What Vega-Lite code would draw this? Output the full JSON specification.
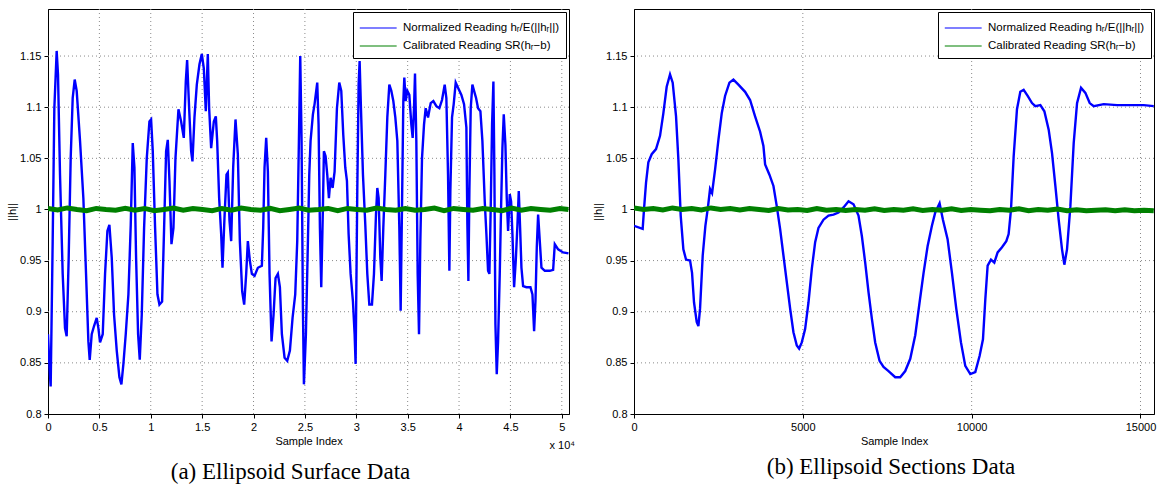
{
  "$schema": "https://vega.github.io/schema/vega-lite/v6.json",
  "background": "white",
  "padding": {"left": 6, "top": 8, "right": 5, "bottom": 5},
  "bounds": "flush",
  "spacing": 65,
  "resolve": {"scale": {"color": "independent"}, "legend": {"color": "independent"}},
  "config": {
    "font": "Liberation Sans",
    "view": {"stroke": "#000", "strokeWidth": 1},
    "axis": {
      "labelFont": "Liberation Sans", "labelFontSize": 11, "labelColor": "#000",
      "titleFont": "Liberation Sans", "titleFontSize": 11, "titleFontWeight": "normal", "titleColor": "#000",
      "domainColor": "#000", "tickColor": "#000", "tickSize": 4, "labelPadding": 3,
      "grid": false, "labelFlush": false
    },
    "legend": {
      "orient": "top-right", "offset": 3, "fillColor": "#fff", "strokeColor": "#000", "padding": 6,
      "labelFont": "Liberation Sans", "labelFontSize": 11.5, "labelColor": "#000", "labelLimit": 400, "labelOffset": 24,
      "symbolType": "M-1,0H3", "symbolSize": 340, "symbolStrokeWidth": 1.2, "rowPadding": 2
    },
    "title": {"font": "Liberation Serif", "fontSize": 23, "fontWeight": "normal", "color": "#000"}
  },
  "datasets": {
    "gxa": [{"g":5000},{"g":10000},{"g":15000},{"g":20000},{"g":25000},{"g":30000},{"g":35000},{"g":40000},{"g":45000},{"g":50000}],
    "gxb": [{"g":5000},{"g":10000},{"g":15000}],
    "gy": [{"g":0.85},{"g":0.9},{"g":0.95},{"g":1.0},{"g":1.05},{"g":1.1},{"g":1.15}],
    "sa": [
      {"i":0,"h":0.878},{"i":150,"h":0.845},{"i":260,"h":0.827},{"i":455,"h":0.969},{"i":617,"h":1.099},{"i":844,"h":1.155},{"i":974,"h":1.132},{"i":1169,"h":1.034},{"i":1429,"h":0.937},{"i":1656,"h":0.884},{"i":1818,"h":0.876},{"i":2013,"h":0.953},{"i":2208,"h":1.05},{"i":2403,"h":1.109},{"i":2598,"h":1.127},{"i":2792,"h":1.116},{"i":3117,"h":1.067},{"i":3442,"h":1.011},{"i":3702,"h":0.937},{"i":3929,"h":0.871},{"i":4059,"h":0.853},{"i":4254,"h":0.878},{"i":4481,"h":0.886},{"i":4741,"h":0.894},{"i":4903,"h":0.884},{"i":5065,"h":0.87},{"i":5325,"h":0.878},{"i":5553,"h":0.937},{"i":5780,"h":0.979},{"i":5975,"h":0.985},{"i":6202,"h":0.953},{"i":6429,"h":0.897},{"i":6689,"h":0.862},{"i":6949,"h":0.836},{"i":7143,"h":0.829},{"i":7338,"h":0.849},{"i":7565,"h":0.878},{"i":7825,"h":0.917},{"i":8052,"h":0.985},{"i":8247,"h":1.065},{"i":8410,"h":1.041},{"i":8572,"h":0.953},{"i":8767,"h":0.878},{"i":8929,"h":0.853},{"i":9124,"h":0.897},{"i":9351,"h":0.982},{"i":9611,"h":1.05},{"i":9870,"h":1.086},{"i":10033,"h":1.088},{"i":10195,"h":1.057},{"i":10422,"h":0.982},{"i":10650,"h":0.917},{"i":10845,"h":0.907},{"i":11104,"h":0.91},{"i":11299,"h":0.982},{"i":11494,"h":1.057},{"i":11657,"h":1.068},{"i":11819,"h":1.028},{"i":12014,"h":0.966},{"i":12209,"h":0.982},{"i":12404,"h":1.05},{"i":12695,"h":1.098},{"i":12954,"h":1.086},{"i":13214,"h":1.07},{"i":13409,"h":1.125},{"i":13539,"h":1.146},{"i":13734,"h":1.099},{"i":13929,"h":1.057},{"i":14058,"h":1.047},{"i":14253,"h":1.09},{"i":14481,"h":1.122},{"i":14740,"h":1.142},{"i":14968,"h":1.152},{"i":15162,"h":1.138},{"i":15357,"h":1.096},{"i":15552,"h":1.152},{"i":15682,"h":1.099},{"i":15877,"h":1.06},{"i":16137,"h":1.086},{"i":16332,"h":1.091},{"i":16462,"h":1.067},{"i":16656,"h":1.011},{"i":16851,"h":0.976},{"i":16981,"h":0.943},{"i":17175,"h":0.992},{"i":17370,"h":1.034},{"i":17500,"h":1.036},{"i":17662,"h":0.989},{"i":17825,"h":0.969},{"i":18020,"h":1.041},{"i":18247,"h":1.088},{"i":18474,"h":1.054},{"i":18669,"h":0.969},{"i":18896,"h":0.92},{"i":19091,"h":0.907},{"i":19286,"h":0.937},{"i":19448,"h":0.969},{"i":19643,"h":0.95},{"i":19838,"h":0.937},{"i":20098,"h":0.935},{"i":20422,"h":0.943},{"i":20812,"h":0.945},{"i":20942,"h":0.982},{"i":21072,"h":1.041},{"i":21234,"h":1.07},{"i":21397,"h":1.037},{"i":21559,"h":0.937},{"i":21754,"h":0.871},{"i":21949,"h":0.897},{"i":22144,"h":0.933},{"i":22371,"h":0.937},{"i":22566,"h":0.924},{"i":22760,"h":0.878},{"i":23020,"h":0.855},{"i":23280,"h":0.852},{"i":23540,"h":0.862},{"i":23799,"h":0.894},{"i":24059,"h":0.917},{"i":24254,"h":0.969},{"i":24416,"h":1.067},{"i":24546,"h":1.15},{"i":24676,"h":1.067},{"i":24806,"h":0.904},{"i":24903,"h":0.829},{"i":25098,"h":0.878},{"i":25293,"h":0.969},{"i":25423,"h":1.034},{"i":25552,"h":1.067},{"i":25779,"h":1.093},{"i":25941,"h":1.103},{"i":26201,"h":1.124},{"i":26331,"h":1.083},{"i":26461,"h":0.982},{"i":26591,"h":0.924},{"i":26753,"h":1.002},{"i":26850,"h":1.057},{"i":27013,"h":1.052},{"i":27175,"h":1.034},{"i":27337,"h":1.011},{"i":27500,"h":1.031},{"i":27695,"h":1.021},{"i":27889,"h":1.037},{"i":28117,"h":1.099},{"i":28344,"h":1.124},{"i":28539,"h":1.116},{"i":28733,"h":1.073},{"i":28928,"h":1.041},{"i":29091,"h":1.028},{"i":29253,"h":0.976},{"i":29448,"h":0.937},{"i":29675,"h":0.91},{"i":29838,"h":0.878},{"i":29935,"h":0.849},{"i":30097,"h":1.018},{"i":30227,"h":1.122},{"i":30325,"h":1.145},{"i":30455,"h":1.099},{"i":30650,"h":1.034},{"i":30877,"h":0.985},{"i":31072,"h":0.937},{"i":31267,"h":0.907},{"i":31526,"h":0.907},{"i":31721,"h":0.937},{"i":31916,"h":0.995},{"i":32046,"h":1.021},{"i":32176,"h":1.011},{"i":32338,"h":0.953},{"i":32468,"h":0.93},{"i":32630,"h":0.982},{"i":32825,"h":1.034},{"i":33020,"h":1.09},{"i":33215,"h":1.122},{"i":33409,"h":1.116},{"i":33604,"h":1.106},{"i":33799,"h":1.09},{"i":33994,"h":1.067},{"i":34189,"h":0.982},{"i":34318,"h":0.901},{"i":34448,"h":1.002},{"i":34578,"h":1.106},{"i":34675,"h":1.129},{"i":34805,"h":1.106},{"i":34967,"h":1.116},{"i":35162,"h":1.112},{"i":35357,"h":1.083},{"i":35487,"h":1.07},{"i":35617,"h":1.099},{"i":35714,"h":1.133},{"i":35844,"h":1.067},{"i":35974,"h":0.937},{"i":36104,"h":0.878},{"i":36234,"h":0.969},{"i":36396,"h":1.05},{"i":36591,"h":1.083},{"i":36754,"h":1.099},{"i":36981,"h":1.09},{"i":37241,"h":1.104},{"i":37500,"h":1.106},{"i":37793,"h":1.101},{"i":38084,"h":1.099},{"i":38343,"h":1.107},{"i":38603,"h":1.122},{"i":38766,"h":1.109},{"i":38928,"h":1.034},{"i":39058,"h":0.94},{"i":39155,"h":1.018},{"i":39317,"h":1.09},{"i":39480,"h":1.103},{"i":39675,"h":1.124},{"i":39902,"h":1.119},{"i":40227,"h":1.112},{"i":40486,"h":1.103},{"i":40714,"h":1.08},{"i":40811,"h":0.985},{"i":40909,"h":0.93},{"i":41006,"h":1.018},{"i":41136,"h":1.099},{"i":41298,"h":1.122},{"i":41461,"h":1.116},{"i":41656,"h":1.109},{"i":41850,"h":1.099},{"i":42078,"h":1.096},{"i":42272,"h":1.067},{"i":42500,"h":1.008},{"i":42662,"h":0.976},{"i":42824,"h":0.94},{"i":42954,"h":0.937},{"i":43084,"h":1.002},{"i":43214,"h":1.083},{"i":43344,"h":1.125},{"i":43441,"h":1.034},{"i":43539,"h":0.888},{"i":43669,"h":0.839},{"i":43798,"h":0.871},{"i":43961,"h":0.937},{"i":44091,"h":1.002},{"i":44221,"h":1.06},{"i":44351,"h":1.093},{"i":44513,"h":1.063},{"i":44643,"h":1.011},{"i":44773,"h":0.979},{"i":44935,"h":1.015},{"i":45065,"h":1.008},{"i":45195,"h":0.976},{"i":45357,"h":0.924},{"i":45520,"h":0.95},{"i":45682,"h":0.985},{"i":45812,"h":1.018},{"i":45942,"h":0.982},{"i":46072,"h":0.943},{"i":46234,"h":0.925},{"i":46559,"h":0.924},{"i":46948,"h":0.924},{"i":47143,"h":0.917},{"i":47305,"h":0.881},{"i":47435,"h":0.91},{"i":47565,"h":0.963},{"i":47695,"h":0.995},{"i":47857,"h":0.969},{"i":48020,"h":0.943},{"i":48344,"h":0.94},{"i":48831,"h":0.94},{"i":49156,"h":0.941},{"i":49318,"h":0.966},{"i":49643,"h":0.961},{"i":50130,"h":0.958},{"i":50650,"h":0.957}
    ],
    "sg": [
      {"i":0,"h":1.001},{"i":940,"h":0.9995},{"i":1880,"h":1.0015},{"i":2820,"h":1.0},{"i":3760,"h":0.9988},{"i":4700,"h":1.001},{"i":5640,"h":1.0},{"i":6580,"h":0.9993},{"i":7520,"h":1.0012},{"i":8460,"h":0.9992},{"i":9400,"h":1.001},{"i":10340,"h":0.9988},{"i":11280,"h":1.0},{"i":12220,"h":1.0013},{"i":13160,"h":0.9993},{"i":14100,"h":1.001},{"i":15040,"h":1.0},{"i":15980,"h":0.9988},{"i":16920,"h":1.001},{"i":17860,"h":0.9993},{"i":18800,"h":1.0014},{"i":19740,"h":1.0},{"i":20680,"h":0.9992},{"i":21620,"h":1.001},{"i":22560,"h":0.9987},{"i":23500,"h":1.0},{"i":24440,"h":1.0013},{"i":25380,"h":0.9993},{"i":26320,"h":1.0},{"i":27260,"h":1.001},{"i":28200,"h":0.9988},{"i":29140,"h":1.001},{"i":30080,"h":1.0},{"i":31020,"h":0.9992},{"i":31960,"h":1.0014},{"i":32900,"h":1.0},{"i":33840,"h":0.9993},{"i":34780,"h":1.001},{"i":35720,"h":0.9992},{"i":36660,"h":1.0},{"i":37600,"h":1.0013},{"i":38540,"h":0.9988},{"i":39480,"h":1.001},{"i":40420,"h":1.0},{"i":41360,"h":0.9992},{"i":42300,"h":1.001},{"i":43240,"h":1.0},{"i":44180,"h":0.9988},{"i":45120,"h":1.0013},{"i":46060,"h":0.9993},{"i":47000,"h":1.001},{"i":47940,"h":1.0},{"i":48880,"h":0.9992},{"i":49820,"h":1.001},{"i":50650,"h":1.0}
    ],
    "ca": [
      {"i":0,"h":0.984},{"i":257,"h":0.981},{"i":296,"h":1.0},{"i":356,"h":1.026},{"i":425,"h":1.046},{"i":524,"h":1.054},{"i":652,"h":1.059},{"i":771,"h":1.072},{"i":869,"h":1.094},{"i":968,"h":1.12},{"i":1067,"h":1.132},{"i":1146,"h":1.124},{"i":1245,"h":1.091},{"i":1314,"h":1.049},{"i":1383,"h":0.994},{"i":1462,"h":0.961},{"i":1541,"h":0.951},{"i":1660,"h":0.95},{"i":1719,"h":0.938},{"i":1778,"h":0.909},{"i":1857,"h":0.89},{"i":1907,"h":0.886},{"i":1956,"h":0.903},{"i":2035,"h":0.955},{"i":2114,"h":0.984},{"i":2193,"h":1.003},{"i":2252,"h":1.02},{"i":2312,"h":1.016},{"i":2401,"h":1.039},{"i":2500,"h":1.068},{"i":2598,"h":1.094},{"i":2697,"h":1.111},{"i":2826,"h":1.124},{"i":2944,"h":1.127},{"i":3092,"h":1.122},{"i":3290,"h":1.115},{"i":3438,"h":1.107},{"i":3586,"h":1.091},{"i":3735,"h":1.076},{"i":3833,"h":1.062},{"i":3883,"h":1.044},{"i":4011,"h":1.034},{"i":4130,"h":1.023},{"i":4229,"h":1.003},{"i":4327,"h":0.981},{"i":4426,"h":0.955},{"i":4525,"h":0.929},{"i":4624,"h":0.903},{"i":4722,"h":0.88},{"i":4821,"h":0.867},{"i":4890,"h":0.864},{"i":4969,"h":0.87},{"i":5068,"h":0.883},{"i":5167,"h":0.909},{"i":5266,"h":0.942},{"i":5365,"h":0.968},{"i":5463,"h":0.982},{"i":5612,"h":0.99},{"i":5760,"h":0.994},{"i":5908,"h":0.995},{"i":6057,"h":0.997},{"i":6205,"h":1.002},{"i":6353,"h":1.008},{"i":6501,"h":1.005},{"i":6649,"h":0.994},{"i":6748,"h":0.974},{"i":6847,"h":0.948},{"i":6946,"h":0.919},{"i":7045,"h":0.893},{"i":7143,"h":0.87},{"i":7272,"h":0.852},{"i":7390,"h":0.846},{"i":7538,"h":0.842},{"i":7736,"h":0.836},{"i":7884,"h":0.836},{"i":8033,"h":0.842},{"i":8181,"h":0.854},{"i":8329,"h":0.877},{"i":8457,"h":0.909},{"i":8576,"h":0.938},{"i":8695,"h":0.964},{"i":8823,"h":0.984},{"i":8922,"h":0.997},{"i":9050,"h":1.006},{"i":9149,"h":0.99},{"i":9287,"h":0.971},{"i":9416,"h":0.938},{"i":9544,"h":0.903},{"i":9683,"h":0.87},{"i":9811,"h":0.847},{"i":9959,"h":0.839},{"i":10107,"h":0.841},{"i":10236,"h":0.857},{"i":10335,"h":0.873},{"i":10404,"h":0.912},{"i":10473,"h":0.945},{"i":10572,"h":0.951},{"i":10671,"h":0.948},{"i":10769,"h":0.958},{"i":10898,"h":0.963},{"i":11026,"h":0.969},{"i":11095,"h":0.976},{"i":11165,"h":1.0},{"i":11244,"h":1.052},{"i":11342,"h":1.098},{"i":11441,"h":1.115},{"i":11540,"h":1.117},{"i":11659,"h":1.111},{"i":11787,"h":1.104},{"i":11886,"h":1.101},{"i":12034,"h":1.102},{"i":12153,"h":1.096},{"i":12281,"h":1.078},{"i":12380,"h":1.055},{"i":12479,"h":1.023},{"i":12577,"h":0.99},{"i":12676,"h":0.961},{"i":12745,"h":0.946},{"i":12824,"h":0.961},{"i":12923,"h":1.003},{"i":13022,"h":1.065},{"i":13121,"h":1.104},{"i":13239,"h":1.119},{"i":13368,"h":1.114},{"i":13496,"h":1.104},{"i":13615,"h":1.101},{"i":13911,"h":1.103},{"i":14306,"h":1.102},{"i":14702,"h":1.102},{"i":15097,"h":1.102},{"i":15393,"h":1.101}
    ],
    "cg": [
      {"i":0,"h":1.0015},{"i":285,"h":1.0},{"i":570,"h":1.001},{"i":855,"h":0.9995},{"i":1140,"h":1.0015},{"i":1425,"h":1.0},{"i":1710,"h":1.001},{"i":1995,"h":0.9995},{"i":2280,"h":1.0015},{"i":2565,"h":1.0},{"i":2850,"h":1.001},{"i":3135,"h":0.9995},{"i":3420,"h":1.001},{"i":3705,"h":1.0},{"i":3990,"h":0.999},{"i":4275,"h":1.001},{"i":4560,"h":0.9995},{"i":4845,"h":1.0},{"i":5130,"h":0.999},{"i":5415,"h":1.001},{"i":5700,"h":0.9993},{"i":5985,"h":1.0},{"i":6270,"h":0.999},{"i":6555,"h":1.0},{"i":6840,"h":0.9993},{"i":7125,"h":1.0007},{"i":7410,"h":0.999},{"i":7695,"h":1.0},{"i":7980,"h":0.9993},{"i":8265,"h":1.0007},{"i":8550,"h":0.999},{"i":8835,"h":1.0},{"i":9120,"h":0.9993},{"i":9405,"h":1.0007},{"i":9690,"h":0.999},{"i":9975,"h":1.0},{"i":10260,"h":0.9993},{"i":10545,"h":0.9988},{"i":10830,"h":1.0},{"i":11115,"h":0.9993},{"i":11400,"h":1.0007},{"i":11685,"h":0.9988},{"i":11970,"h":1.0},{"i":12255,"h":0.9993},{"i":12540,"h":1.0005},{"i":12825,"h":0.9988},{"i":13110,"h":0.9998},{"i":13395,"h":0.9988},{"i":13680,"h":0.9993},{"i":13965,"h":0.9998},{"i":14250,"h":0.9988},{"i":14535,"h":0.9997},{"i":14820,"h":0.9988},{"i":15105,"h":0.9993},{"i":15393,"h":0.9988}
    ]
  },
  "hconcat": [
    {
      "width": 521,
      "height": 405,
      "title": {"text": "(a) Ellipsoid Surface Data", "orient": "bottom", "offset": 10, "dx": -18},
      "layer": [
        {
          "data": {"name": "gxa"},
          "mark": {"type": "rule", "color": "#8a8a8a", "strokeWidth": 1, "strokeDash": [1, 3]},
          "encoding": {"x": {"field": "g", "type": "quantitative"}}
        },
        {
          "data": {"name": "gy"},
          "mark": {"type": "rule", "color": "#8a8a8a", "strokeWidth": 1, "strokeDash": [1, 3]},
          "encoding": {"y": {"field": "g", "type": "quantitative"}}
        },
        {
          "data": {"name": "sa"},
          "mark": {"type": "line", "strokeWidth": 2.4, "clip": true},
          "encoding": {
            "x": {"field": "i", "type": "quantitative", "scale": {"domain": [0, 50700], "nice": false, "zero": false},
                  "axis": {"title": "Sample Index", "values": [0,5000,10000,15000,20000,25000,30000,35000,40000,45000,50000], "labelExpr": "format(datum.value/10000, '~g')", "titlePadding": 3}},
            "y": {"field": "h", "type": "quantitative", "scale": {"domain": [0.8, 1.196], "nice": false, "zero": false},
                  "axis": {"title": "||h||", "values": [0.8,0.85,0.9,0.95,1,1.05,1.1,1.15], "format": "~g", "titlePadding": 2}},
            "color": {"datum": "Normalized Reading hᵣ/E(||hᵣ||)", "type": "nominal",
                      "scale": {"domain": ["Normalized Reading hᵣ/E(||hᵣ||)", "Calibrated Reading SR(hᵣ−b)"], "range": ["#0000ff", "#008000"]},
                      "legend": {"title": null}}
          }
        },
        {
          "data": {"name": "sg"},
          "mark": {"type": "line", "strokeWidth": 5, "clip": true},
          "encoding": {
            "x": {"field": "i", "type": "quantitative"},
            "y": {"field": "h", "type": "quantitative"},
            "color": {"datum": "Calibrated Reading SR(hᵣ−b)", "type": "nominal"}
          }
        },
        {
          "data": {"values": [{}]},
          "mark": {"type": "text", "align": "right", "baseline": "middle", "fontSize": 11, "font": "Liberation Sans", "color": "#000", "dx": 6},
          "encoding": {
            "x": {"datum": 50700, "type": "quantitative"},
            "y": {"datum": 0.769, "type": "quantitative"},
            "text": {"value": "x 10⁴"}
          }
        }
      ]
    },
    {
      "width": 520,
      "height": 405,
      "title": {"text": "(b) Ellipsoid Sections Data", "orient": "bottom", "offset": 10, "dx": -3},
      "layer": [
        {
          "data": {"name": "gxb"},
          "mark": {"type": "rule", "color": "#8a8a8a", "strokeWidth": 1, "strokeDash": [1, 3]},
          "encoding": {"x": {"field": "g", "type": "quantitative"}}
        },
        {
          "data": {"name": "gy"},
          "mark": {"type": "rule", "color": "#8a8a8a", "strokeWidth": 1, "strokeDash": [1, 3]},
          "encoding": {"y": {"field": "g", "type": "quantitative"}}
        },
        {
          "data": {"name": "ca"},
          "mark": {"type": "line", "strokeWidth": 2.4, "clip": true},
          "encoding": {
            "x": {"field": "i", "type": "quantitative", "scale": {"domain": [0, 15400], "nice": false, "zero": false},
                  "axis": {"title": "Sample Index", "values": [0,5000,10000,15000], "format": "d", "titlePadding": 3}},
            "y": {"field": "h", "type": "quantitative", "scale": {"domain": [0.8, 1.196], "nice": false, "zero": false},
                  "axis": {"title": "||h||", "values": [0.8,0.85,0.9,0.95,1,1.05,1.1,1.15], "format": "~g", "titlePadding": 2}},
            "color": {"datum": "Normalized Reading hᵣ/E(||hᵣ||)", "type": "nominal",
                      "scale": {"domain": ["Normalized Reading hᵣ/E(||hᵣ||)", "Calibrated Reading SR(hᵣ−b)"], "range": ["#0000ff", "#008000"]},
                      "legend": {"title": null}}
          }
        },
        {
          "data": {"name": "cg"},
          "mark": {"type": "line", "strokeWidth": 5, "clip": true},
          "encoding": {
            "x": {"field": "i", "type": "quantitative"},
            "y": {"field": "h", "type": "quantitative"},
            "color": {"datum": "Calibrated Reading SR(hᵣ−b)", "type": "nominal"}
          }
        }
      ]
    }
  ]
}
